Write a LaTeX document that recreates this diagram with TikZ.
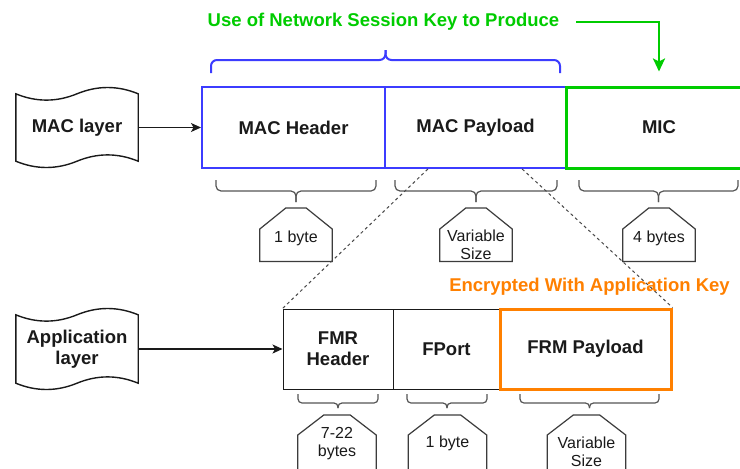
\documentclass[tikz,border=0pt]{standalone}
\usepackage{fontspec}
\setmainfont{Liberation Sans}
\usetikzlibrary{arrows.meta,calc}

\definecolor{netblue}{RGB}{60,60,255}
\definecolor{micgreen}{RGB}{0,204,0}
\definecolor{appkey}{RGB}{255,128,0}
\definecolor{ink}{RGB}{26,26,26}
\definecolor{bracegray}{RGB}{85,85,85}

\tikzset{
  boxfont/.style={font=\fontsize{18.5}{21}\selectfont\bfseries, text=ink, align=center},
  field/.style={boxfont, rectangle, inner sep=0pt, minimum height=81pt},
  macfield/.style={field, draw=netblue, line width=2pt},
  micfield/.style={field, draw=micgreen, line width=3pt},
  appfield/.style={field, draw=ink, line width=1pt, minimum height=80pt},
  frmfield/.style={field, draw=appkey, line width=3pt, minimum height=80pt},
  tapebox/.style={boxfont, rectangle, inner sep=0pt, minimum width=122pt},
  tapeline/.style={draw=ink, line width=1.4pt},
  sizetag/.style={rectangle, inner sep=0pt, anchor=north},
  tagline/.style={draw=ink!85, line width=1.2pt},
  tagtext/.style={font=\fontsize{16}{18}\selectfont, text=ink, align=center, inner sep=0pt},
  feed/.style={draw=ink, line width=1.2pt, -{Stealth[length=10pt,width=9pt,inset=2.5pt]}},
  keyarrow/.style={draw=micgreen, line width=2.5pt, -{Stealth[length=13pt,width=12pt,inset=3pt]}},
  zoomline/.style={draw=ink!80, line width=1pt, dash pattern=on 3pt off 3pt},
  bluebrace/.style={draw=netblue, line width=2pt, rounded corners=6pt},
  graybrace/.style={draw=bracegray, line width=1.2pt, rounded corners=5pt},
  smallbrace/.style={draw=bracegray, line width=1.2pt, rounded corners=4pt},
  keytext/.style={font=\fontsize{18.5}{21}\selectfont\bfseries, inner sep=0pt},
}

% curly bracket: style, x left, x right, y of the ends, y of the bar, y of the tip
\newcommand\spanbrace[6]{%
  \draw[#1] (#2,#4) -- (#2,#5) -- ({(#2+#3)/2},#5) -- ({(#2+#3)/2},#6);
  \draw[#1] (#3,#4) -- (#3,#5) -- ({(#2+#3)/2},#5) -- ({(#2+#3)/2},#6);}

% size tag with its two upper corners cut off: node, horizontal cut, vertical cut
\newcommand\tagoutline[3]{%
  \draw[tagline] ($(#1.north west)+(#2,0)$) -- ($(#1.north east)+(-#2,0)$)
    -- ($(#1.north east)+(0,#3)$) -- (#1.south east) -- (#1.south west)
    -- ($(#1.north west)+(0,#3)$) -- cycle;}

% wavy "tape" outline drawn round a named node
\newcommand\tapeoutline[1]{%
  \draw[tapeline] let \p1=(#1.north west), \p2=(#1.south east), \n1={\x2-\x1} in
    (\x1,\y1-7pt)
    .. controls (\x1+\n1*1pt/6,\y1-15.4pt) and (\x1+\n1*1pt/3,\y1-15.4pt) .. (\x1+\n1*1pt/2,\y1-7pt)
    .. controls (\x1+\n1*2pt/3,\y1+1.4pt) and (\x1+\n1*5pt/6,\y1+1.4pt) .. (\x2,\y1-7pt)
    -- (\x2,\y2+7pt)
    .. controls (\x2-\n1*1pt/6,\y2+15.4pt) and (\x1+\n1*2pt/3,\y2+15.4pt) .. (\x1+\n1*1pt/2,\y2+7pt)
    .. controls (\x1+\n1*1pt/3,\y2-1.4pt) and (\x1+\n1*1pt/6,\y2-1.4pt) .. (\x1,\y2+7pt)
    -- cycle;}

\begin{document}
\begin{tikzpicture}[x=1pt, y=-1pt]
  \clip (0,0) rectangle (740,469);
  \fill[white] (0,0) rectangle (740,469);

  % ---- MAC layer frame ----
  \node[tapebox, minimum height=81pt] (maclayer) at (77,127.5) {MAC layer};
  \tapeoutline{maclayer}

  \node[macfield, minimum width=183pt] (machdr) at (293.5,127.5) {MAC Header};
  \node[macfield, minimum width=181pt] (macpay) at (475.5,127.5) {MAC Payload};
  \node[micfield, minimum width=186pt] (mic) at (659,127.5) {MIC};

  \draw[feed] (maclayer.east) -- (machdr.west);

  % network session key
  \node[keytext, text=micgreen] (nskey) at (383.5,22) {Use of Network Session Key to Produce};
  \coordinate (keyfrom) at (576,22);
  \draw[keyarrow] (keyfrom) -| ([yshift=14pt]mic.north);
  \spanbrace{bluebrace}{211}{560}{73}{60}{50}

  % sizes of the MAC fields
  \spanbrace{graybrace}{216}{376}{180}{191}{202}
  \spanbrace{graybrace}{395}{557}{180}{191}{202}
  \spanbrace{graybrace}{579}{738}{180}{191}{202}

  \node[sizetag, minimum width=72pt, minimum height=53pt] (tagmh) at (296,208) {};
  \node[sizetag, minimum width=72pt, minimum height=53pt] (tagmp) at (476,208) {};
  \node[sizetag, minimum width=72pt, minimum height=53pt] (tagmic) at (659,208) {};
  \tagoutline{tagmh}{26}{21}
  \tagoutline{tagmp}{26}{21}
  \tagoutline{tagmic}{26}{21}
  \node[tagtext] (tmh) at (296,238) {1 byte};
  \node[tagtext] (tmp) at (476,245) {Variable\\Size};
  \node[tagtext] (tmic) at (659,238) {4 bytes};

  % ---- application layer frame ----
  \node[tapebox, minimum height=82pt] (applayer) at (77,349) {Application\\layer};
  \tapeoutline{applayer}

  \node[appfield, minimum width=110pt] (fmr) at (338,349) {FMR\\Header};
  \node[appfield, minimum width=107pt] (fport) at (446.5,349) {FPort};
  \node[frmfield, minimum width=171pt] (frm) at (585.5,349) {FRM Payload};

  \draw[feed] (applayer.east) -- (fmr.west);

  % MAC payload expanded into the application frame
  \coordinate (zl) at ($(macpay.south west)!0.24!(macpay.south east)$);
  \coordinate (zr) at ($(macpay.south west)!0.755!(macpay.south east)$);
  \draw[zoomline] (zl) -- (fmr.north west);
  \draw[zoomline] (zr) -- (frm.north east);

  \node[keytext, text=appkey] (appkeytext) at (589.5,287) {Encrypted With Application Key};

  % sizes of the application fields
  \spanbrace{smallbrace}{298}{378}{394}{403}{408}
  \spanbrace{smallbrace}{407}{487}{394}{403}{408}
  \spanbrace{smallbrace}{520}{659}{394}{403}{408}

  \node[sizetag, minimum width=78pt, minimum height=58pt] (tagfmr) at (337,415) {};
  \node[sizetag, minimum width=78pt, minimum height=58pt] (tagfp) at (447.5,415) {};
  \node[sizetag, minimum width=78pt, minimum height=58pt] (tagfrm) at (586.5,415) {};
  \tagoutline{tagfmr}{26}{20}
  \tagoutline{tagfp}{26}{20}
  \tagoutline{tagfrm}{26}{20}
  \node[tagtext] (tfmr) at (337,444) {7-22\\bytes};
  \node[tagtext] (tfp) at (447.5,443) {1 byte};
  \node[tagtext] (tfrm) at (586.5,452) {Variable\\Size};
\end{tikzpicture}
\end{document}
